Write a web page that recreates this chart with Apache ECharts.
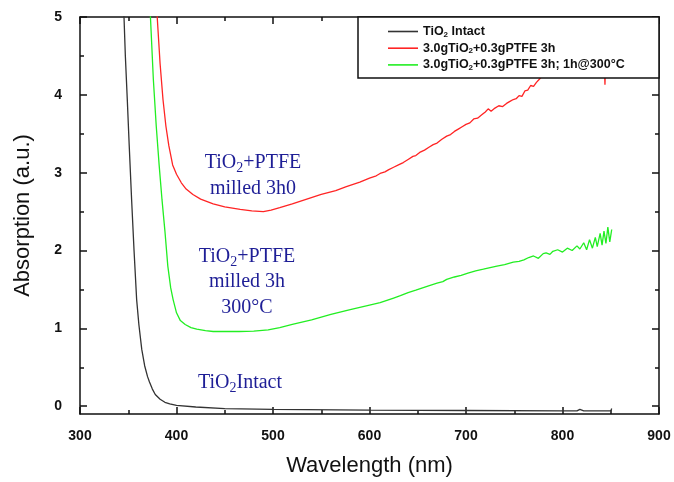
<!DOCTYPE html>
<html>
<head>
<meta charset="utf-8">
<script src="https://cdn.jsdelivr.net/npm/echarts@6/dist/echarts.min.js"></script>
<style>
html,body{margin:0;padding:0;background:#fff;}
#chart{width:674px;height:482px;}
</style>
</head>
<body>
<div id="chart"></div>
<script>
// ---- data ----
const seriesNames = ['TiO2 Intact', '3.0gTiO2+0.3gPTFE 3h', '3.0gTiO2+0.3gPTFE 3h; 1h@300°C'];

const intactX = [343, 345.6, 347, 349, 351, 353.5, 356, 358.7, 361, 364, 367, 370, 372, 375, 378, 383, 388, 393, 400, 420, 450, 500, 600, 700, 800, 815, 818, 822, 850, 851];
const intactY = [5.4, 5.0, 4.5, 3.94, 3.35, 2.65, 2.0, 1.37, 1.05, 0.73, 0.52, 0.38, 0.31, 0.22, 0.15, 0.09, 0.05, 0.03, 0.01, -0.01, -0.03, -0.04, -0.05, -0.055, -0.06, -0.06, -0.04, -0.06, -0.06, -0.03];

const milledX = [377, 380, 383, 386, 389, 392, 396, 400, 405, 410, 417, 425, 438, 450, 466, 478, 490, 498, 507, 520, 535, 550, 565, 576, 590, 600, 607, 611, 616, 620, 625, 630, 635, 640, 645, 648, 652, 657, 662, 666, 670, 675, 680, 684, 688, 692, 696, 700, 704, 708, 712, 716, 720, 723, 726, 730, 734, 738, 742, 746, 749, 752, 755, 758, 761, 764, 767, 770, 773, 776, 779, 782, 784, 786, 788, 790, 794, 798, 802, 806, 810, 815, 820, 825, 830, 835, 840, 843, 844, 845, 850];
const milledY = [5.4, 5.0, 4.4, 3.94, 3.6, 3.35, 3.1, 2.98, 2.87, 2.79, 2.72, 2.66, 2.60, 2.56, 2.53, 2.51, 2.50, 2.52, 2.55, 2.60, 2.66, 2.72, 2.77, 2.82, 2.88, 2.93, 2.96, 2.99, 3.01, 3.04, 3.07, 3.10, 3.13, 3.17, 3.21, 3.22, 3.26, 3.29, 3.33, 3.36, 3.38, 3.43, 3.47, 3.49, 3.53, 3.56, 3.59, 3.62, 3.64, 3.69, 3.70, 3.74, 3.78, 3.82, 3.79, 3.83, 3.86, 3.85, 3.89, 3.92, 3.94, 3.95, 3.99, 3.98, 4.05, 4.06, 4.12, 4.11, 4.16, 4.20, 4.24, 4.30, 4.22, 4.32, 4.24, 4.33, 4.38, 4.42, 4.40, 4.46, 4.50, 4.48, 4.55, 4.52, 4.58, 4.55, 4.60, 4.58, 4.13, 4.60, 4.62];

const annealedX = [370, 373, 376, 379, 382, 385, 388, 391, 394, 396.5, 400, 404, 409, 415, 421, 430, 438, 450, 465, 480, 495, 507, 520, 540, 560, 580, 600, 611, 618, 625, 632, 640, 648, 655, 662, 670, 676, 680, 688, 695, 702, 710, 718, 725, 732, 740, 749, 755, 760, 765, 770, 775, 780, 783, 787, 790, 795, 800, 805, 810, 815, 818, 822, 825, 828, 831, 834, 836, 839, 841, 843, 845, 847, 849, 851];
const annealedY = [5.4, 5.0, 4.2, 3.6, 3.1, 2.65, 2.25, 1.8, 1.52, 1.37, 1.2, 1.1, 1.05, 1.01, 0.99, 0.97, 0.96, 0.96, 0.96, 0.965, 0.98, 1.01, 1.05, 1.11, 1.18, 1.24, 1.30, 1.33, 1.36, 1.39, 1.42, 1.46, 1.49, 1.52, 1.55, 1.58, 1.60, 1.63, 1.66, 1.68, 1.71, 1.74, 1.76, 1.78, 1.80, 1.82, 1.85, 1.86, 1.88, 1.91, 1.93, 1.90, 1.96, 1.97, 1.95, 1.99, 2.01, 1.98, 2.03, 2.00, 2.06, 2.02, 2.10, 2.01, 2.14, 2.03, 2.17, 2.05, 2.22, 2.07, 2.25, 2.09, 2.30, 2.11, 2.27];

const xTickMin = 300, xTickMax = 900, xTickStep = 100;
const yMin = -0.1, yMax = 5;
const yMajorTicks = [0, 1, 2, 3, 4, 5];
const yMinorTicks = [0.5, 1.5, 2.5, 3.5, 4.5];

const annotationTexts = [
  'TiO{s|2}+PTFE\nmilled 3h0',
  'TiO{s|2}+PTFE\nmilled 3h\n300°C',
  'TiO{s|2}Intact'
];

// ---- chart ----
const pairs = (xs, ys) => xs.map((x, i) => [x, ys[i]]);
const chart = echarts.init(document.getElementById('chart'), null, {renderer: 'canvas'});

const axisCol = '#111';
const sans = 'Liberation Sans, Arial, sans-serif';
const lblFont = {fontFamily: sans, fontWeight: 'bold', fontSize: 14, color: '#111'};

function yAx(pos, ticks, len, showLine, showLabel) {
  return {
    type: 'value', position: pos, min: yMin, max: yMax,
    splitLine: {show: false},
    axisLine: {show: showLine, onZero: false, lineStyle: {color: axisCol, width: 1.5}},
    axisTick: {show: true, inside: true, length: len, customValues: ticks, lineStyle: {color: axisCol, width: 1.5}},
    axisLabel: showLabel ? Object.assign({show: true, customValues: ticks, margin: 18}, lblFont) : {show: false}
  };
}

const serif = 'Liberation Serif, Times New Roman, serif';
const annStyle = (txt, x, y) => ({
  type: 'text', x: x, y: y, z: 40,
  style: {
    text: txt, fill: '#1e1e96', fontFamily: serif, fontSize: 20, lineHeight: 25.5,
    align: 'center', verticalAlign: 'middle',
    rich: {s: {fontFamily: serif, fontSize: 14, lineHeight: 12, verticalAlign: 'bottom', fill: '#1e1e96'}}
  }
});

const option = {
  animation: false,
  backgroundColor: '#fff',
  grid: {left: 80, right: 15, top: 17, bottom: 67.5, containLabel: false},
  xAxis: [
    {
      type: 'value', position: 'bottom', min: xTickMin, max: xTickMax, interval: xTickStep,
      name: 'Wavelength (nm)', nameLocation: 'middle', nameGap: 41,
      nameTextStyle: {fontFamily: sans, fontSize: 22, color: '#111'},
      splitLine: {show: false},
      axisLine: {onZero: false, lineStyle: {color: axisCol, width: 1.5}},
      axisTick: {inside: true, length: 7, lineStyle: {color: axisCol, width: 1.5}},
      minorTick: {show: true, splitNumber: 2, length: 4, lineStyle: {color: axisCol, width: 1.5}},
      axisLabel: Object.assign({margin: 15}, lblFont)
    },
    {
      type: 'value', position: 'top', min: xTickMin, max: xTickMax, interval: xTickStep,
      splitLine: {show: false},
      axisLine: {onZero: false, lineStyle: {color: axisCol, width: 1.5}},
      axisTick: {inside: true, length: 7, lineStyle: {color: axisCol, width: 1.5}},
      minorTick: {show: true, splitNumber: 2, length: 4, lineStyle: {color: axisCol, width: 1.5}},
      axisLabel: {show: false}
    }
  ],
  yAxis: [
    Object.assign(yAx('left', yMajorTicks, 7, true, true), {
      name: 'Absorption (a.u.)', nameLocation: 'middle', nameGap: 46, nameRotate: 90,
      nameTextStyle: {fontFamily: sans, fontSize: 22, color: '#111'}
    }),
    yAx('left', yMinorTicks, 4, false, false),
    yAx('right', yMajorTicks, 7, true, false),
    yAx('right', yMinorTicks, 4, false, false)
  ],
  legend: {
    show: true, orient: 'vertical', left: 388, top: 24.5, padding: 0, itemGap: 2.7,
    itemWidth: 30, itemHeight: 1.6, icon: 'rect', z: 60, selectedMode: false,
    data: seriesNames,
    formatter: n => n.replace(/TiO2/g, 'TiO{s|2}'),
    textStyle: {
      fontFamily: sans, fontWeight: 'bold', fontSize: 12.5, lineHeight: 14, color: '#111',
      rich: {s: {fontFamily: sans, fontWeight: 'bold', fontSize: 8, lineHeight: 8, verticalAlign: 'bottom', color: '#111'}}
    }
  },
  graphic: [
    {type: 'rect', z: 50, shape: {x: 358, y: 17, width: 301, height: 61}, style: {fill: '#fff', stroke: '#111', lineWidth: 1.5}},
    annStyle(annotationTexts[0], 253, 175.5),
    annStyle(annotationTexts[1], 247, 282),
    annStyle(annotationTexts[2], 240, 383)
  ],
  series: [
    {name: seriesNames[0], type: 'line', data: pairs(intactX, intactY), xAxisIndex: 0, yAxisIndex: 0,
     showSymbol: false, symbol: 'none', color: '#333', lineStyle: {color: '#333', width: 1.3}, clip: true},
    {name: seriesNames[1], type: 'line', data: pairs(milledX, milledY), xAxisIndex: 0, yAxisIndex: 0,
     showSymbol: false, symbol: 'none', color: '#ff2424', lineStyle: {color: '#ff2424', width: 1.3}, clip: true},
    {name: seriesNames[2], type: 'line', data: pairs(annealedX, annealedY), xAxisIndex: 0, yAxisIndex: 0,
     showSymbol: false, symbol: 'none', color: '#22ee22', lineStyle: {color: '#22ee22', width: 1.3}, clip: true}
  ]
};
chart.setOption(option);
</script>
</body>
</html>
